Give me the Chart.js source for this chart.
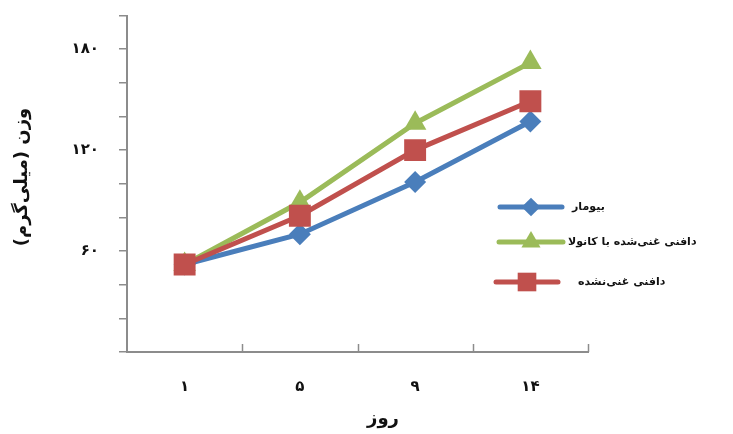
<!DOCTYPE html>
<html>
<head>
<meta charset="utf-8">
<script src="https://cdn.jsdelivr.net/npm/chart.js@4/dist/chart.umd.min.js"></script>
<style>
html,body{margin:0;padding:0;background:#fff;}
canvas{display:block;}
</style>
</head>
<body>
<canvas id="c" width="733" height="434"></canvas>
<script>
// ---- data ----
const days = ['۱', '۵', '۹', '۱۴'];
const biomar = [52, 70, 101, 137];
const canolaEnriched = [52, 89, 136, 172];
const notEnriched = [52, 81, 120, 149];
const seriesNames = ['بیومار', 'دافنی غنی‌شده با کانولا', 'دافنی غنی‌نشده'];
const yLabelValues = [60, 120, 180];
const yLabelTexts = ['۶۰', '۱۲۰', '۱۸۰'];
const yTitle = 'وزن (میلی‌گرم)';
const xTitle = 'روز';

const FONT = '"DejaVu Sans", sans-serif';
const BLUE = '#4a7ebb', GREEN = '#9bbb59', RED = '#c0504d';
const AXIS = '#8c8c8c';

function drawMarker(ctx, style, x, y, r, color) {
  ctx.save();
  ctx.fillStyle = color;
  ctx.beginPath();
  if (style === 'rect') {
    const h = r * Math.SQRT1_2;
    ctx.rect(x - h, y - h, 2 * h, 2 * h);
  } else if (style === 'rectRot') {
    ctx.moveTo(x, y - r); ctx.lineTo(x + r, y); ctx.lineTo(x, y + r); ctx.lineTo(x - r, y);
    ctx.closePath();
  } else if (style === 'triangle') {
    ctx.moveTo(x, y - r);
    ctx.lineTo(x + r * Math.sin(Math.PI / 3), y + r * 0.5);
    ctx.lineTo(x - r * Math.sin(Math.PI / 3), y + r * 0.5);
    ctx.closePath();
  }
  ctx.fill();
  ctx.restore();
}

const extras = {
  id: 'extras',
  afterDraw(chart) {
    const ctx = chart.ctx;
    const xs = chart.scales.x, ys = chart.scales.y;
    // inward x tick marks at category boundaries
    ctx.save();
    ctx.strokeStyle = AXIS; ctx.lineWidth = 1.5;
    const n = days.length;
    for (let i = 0; i < n; i++) {
      const a = xs.getPixelForValue(i);
      const b = i < n - 1 ? xs.getPixelForValue(i + 1) : a + (a - xs.getPixelForValue(i - 1));
      const bx = Math.round((a + b) / 2) + 0.5;
      ctx.beginPath(); ctx.moveTo(bx, ys.bottom); ctx.lineTo(bx, ys.bottom - 8); ctx.stroke();
    }
    ctx.restore();
    // axis titles
    ctx.save();
    ctx.fillStyle = '#111';
    ctx.font = 'bold 18px ' + FONT;
    ctx.textAlign = 'center'; ctx.textBaseline = 'middle';
    ctx.translate(22, 177); ctx.rotate(-Math.PI / 2);
    ctx.fillText(yTitle, 0, 0);
    ctx.restore();
    ctx.save();
    ctx.fillStyle = '#111';
    ctx.font = 'bold 18px ' + FONT;
    ctx.textAlign = 'center'; ctx.textBaseline = 'middle';
    ctx.fillText(xTitle, 383, 419);
    ctx.restore();
    // legend
    const items = [
      {y: 207, x0: 500, x1: 562, mx: 531, tx: 572},
      {y: 242, x0: 499, x1: 563, mx: 531, tx: 568},
      {y: 282, x0: 496, x1: 558, mx: 527, tx: 578}
    ];
    chart.data.datasets.forEach((ds, i) => {
      const it = items[i];
      ctx.save();
      ctx.strokeStyle = ds.borderColor; ctx.lineWidth = 5; ctx.lineCap = 'round';
      ctx.beginPath(); ctx.moveTo(it.x0, it.y); ctx.lineTo(it.x1, it.y); ctx.stroke();
      drawMarker(ctx, ds.pointStyle, it.mx, it.y, ds.pointRadius * 0.85, ds.backgroundColor);
      ctx.fillStyle = '#111';
      ctx.font = 'bold 11px ' + FONT;
      ctx.textBaseline = 'middle';
      ctx.direction = 'rtl';
      ctx.textAlign = 'left';
      ctx.fillText(ds.label, it.tx, it.y);
      ctx.restore();
    });
  }
};

new Chart(document.getElementById('c'), {
  type: 'line',
  data: {
    labels: days,
    datasets: [
      {label: seriesNames[0], data: biomar, borderColor: BLUE, backgroundColor: BLUE,
       pointStyle: 'rectRot', pointRadius: 11, borderWidth: 5, pointBorderWidth: 0, order: 3},
      {label: seriesNames[1], data: canolaEnriched, borderColor: GREEN, backgroundColor: GREEN,
       pointStyle: 'triangle', pointRadius: 13, borderWidth: 5, pointBorderWidth: 0, order: 2},
      {label: seriesNames[2], data: notEnriched, borderColor: RED, backgroundColor: RED,
       pointStyle: 'rect', pointRadius: 15.5, borderWidth: 5, pointBorderWidth: 0, order: 1}
    ]
  },
  options: {
    responsive: false,
    animation: false,
    layout: {padding: {top: 8, right: 145, left: 0, bottom: 0}},
    plugins: {legend: {display: false}, tooltip: {enabled: false}},
    scales: {
      x: {
        type: 'category',
        offset: true,
        afterFit(s) { s.height = 82; s.paddingLeft = 0; s.paddingRight = 0; },
        grid: {display: true, drawOnChartArea: false, drawTicks: false},
        border: {color: AXIS, width: 2},
        ticks: {color: '#111', padding: 26, font: {family: FONT, size: 15, weight: 'bold'}}
      },
      y: {
        min: 0, max: 200,
        afterFit(s) { s.width = 127; s.paddingTop = 0; s.paddingBottom = 0; },
        grid: {display: true, drawOnChartArea: false, drawTicks: true, tickLength: 8, color: AXIS, lineWidth: 1.5},
        border: {color: AXIS, width: 2},
        ticks: {
          stepSize: 20, padding: 20, color: '#111',
          font: {family: FONT, size: 15, weight: 'bold'},
          callback(v) { const k = yLabelValues.indexOf(v); return k >= 0 ? yLabelTexts[k] : ''; }
        }
      }
    }
  },
  plugins: [extras]
});
</script>
</body>
</html>
